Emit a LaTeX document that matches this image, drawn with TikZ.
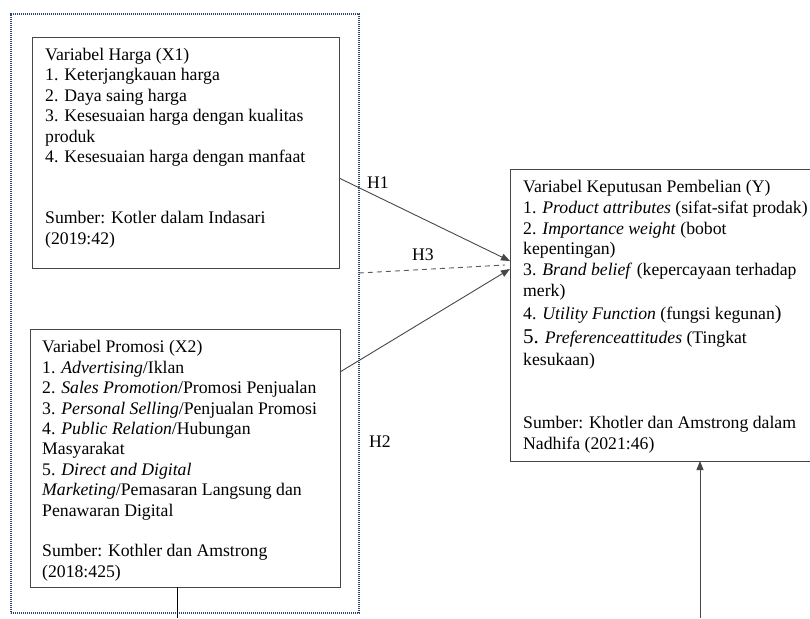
\documentclass[tikz,border=0pt]{standalone}
\usepackage{fontspec}
\setmainfont{Liberation Serif}
\usetikzlibrary{arrows.meta,calc}
\definecolor{dotblue}{RGB}{50,66,110}
\definecolor{boxgray}{RGB}{70,70,70}
\begin{document}
\begin{tikzpicture}[x=1pt,y=-1pt,
  box/.style={draw=boxgray, line width=0.9pt, inner sep=0pt, outer sep=0pt, anchor=north west},
  outerbox/.style={draw=dotblue, line width=1.3pt, dash pattern=on 1.1pt off 0.9pt, inner sep=0pt, outer sep=0pt, anchor=north west},
  txt/.style={anchor=north west, inner sep=0pt, align=left, font=\fontsize{17.7}{20.4}\selectfont, text=black},
  ytxt/.style={txt, font=\fontsize{17.7}{20.8}\selectfont},
  conn/.style={draw=black!72, line width=0.9pt, -{Triangle[length=9pt,width=7pt]}},
  dconn/.style={draw=black!65, line width=0.9pt, dash pattern=on 5pt off 4pt},
  plain/.style={draw=black, line width=1pt},
  lbl/.style={inner sep=0pt, font=\fontsize{17.7}{20.4}\selectfont, text=black}]
\useasboundingbox (0,0) rectangle (810,618);
\clip (0,0) rectangle (810,618);
% boxes
\node[outerbox, minimum width=348pt, minimum height=599pt] (outer) at (11,14) {};
\node[box, minimum width=307pt, minimum height=231pt] (x1) at (32,37) {};
\node[box, minimum width=310pt, minimum height=258pt] (x2) at (30,329) {};
\node[box, minimum width=310pt, minimum height=292pt] (y) at (510,169) {};
% texts
\node[txt] (x1t) at (45,48) {Variabel Harga (X1)\\
1. Keterjangkauan harga\\
2. Daya saing harga\\
3. Kesesuaian harga dengan kualitas\\
produk\\
4. Kesesuaian harga dengan manfaat\\[40.8pt]
Sumber: Kotler dalam Indasari\\
(2019:42)};
\node[txt] (x2t) at (42,340.5) {Variabel Promosi (X2)\\
1. \textit{Advertising}/Iklan\\
2. \textit{Sales Promotion}/Promosi Penjualan\\
3. \textit{Personal Selling}/Penjualan Promosi\\
4. \textit{Public Relation}/Hubungan\\
Masyarakat\\
5. \textit{Direct and Digital}\\
\textit{Marketing}/Pemasaran Langsung dan\\
Penawaran Digital\\[20.4pt]
Sumber: Kothler dan Amstrong\\
(2018:425)};
\node[ytxt] (yt) at (523,180) {Variabel Keputusan Pembelian (Y)\\
1. \textit{Product attributes} (sifat-sifat prodak)\\
2. \textit{Importance weight} (bobot\\
kepentingan)\\
3. \textit{Brand belief} (kepercayaan terhadap\\
merk)\\[2.5pt]
4. \textit{Utility Function} (fungsi kegunan{\fontsize{20}{20.8}\selectfont )}\\[3pt]
{\fontsize{21}{20.8}\selectfont 5.} \textit{Preferenceattitudes} (Tingkat\\[1.5pt]
kesukaan)\\[41.6pt]
Sumber: Khotler dan Amstrong dalam\\
Nadhifa (2021:46)};
% connector end points
\coordinate (h1s) at (x1.east |- 0,178);
\coordinate (h1e) at (y.west |- 0,261);
\coordinate (h2s) at (x2.east |- 0,372);
\coordinate (h2e) at (y.west |- 0,269);
\coordinate (h3s) at (outer.east |- 0,273);
\coordinate (h3e) at (505,265);
\coordinate (bot) at (700,618);
\coordinate (x2b) at (177,618);
% connectors
\draw[conn] (h1s) -- (h1e);
\draw[conn] (h2s) -- (h2e);
\draw[dconn] (h3s) -- (h3e);
\draw[conn] (bot) -- (y.south -| bot);
\draw[plain] (x2.south -| x2b) -- (x2b);
% labels
\node[lbl] (lh1) at (378,183) {H1};
\node[lbl] (lh3) at (423,255) {H3};
\node[lbl] (lh2) at (380,442) {H2};
\end{tikzpicture}
\end{document}
